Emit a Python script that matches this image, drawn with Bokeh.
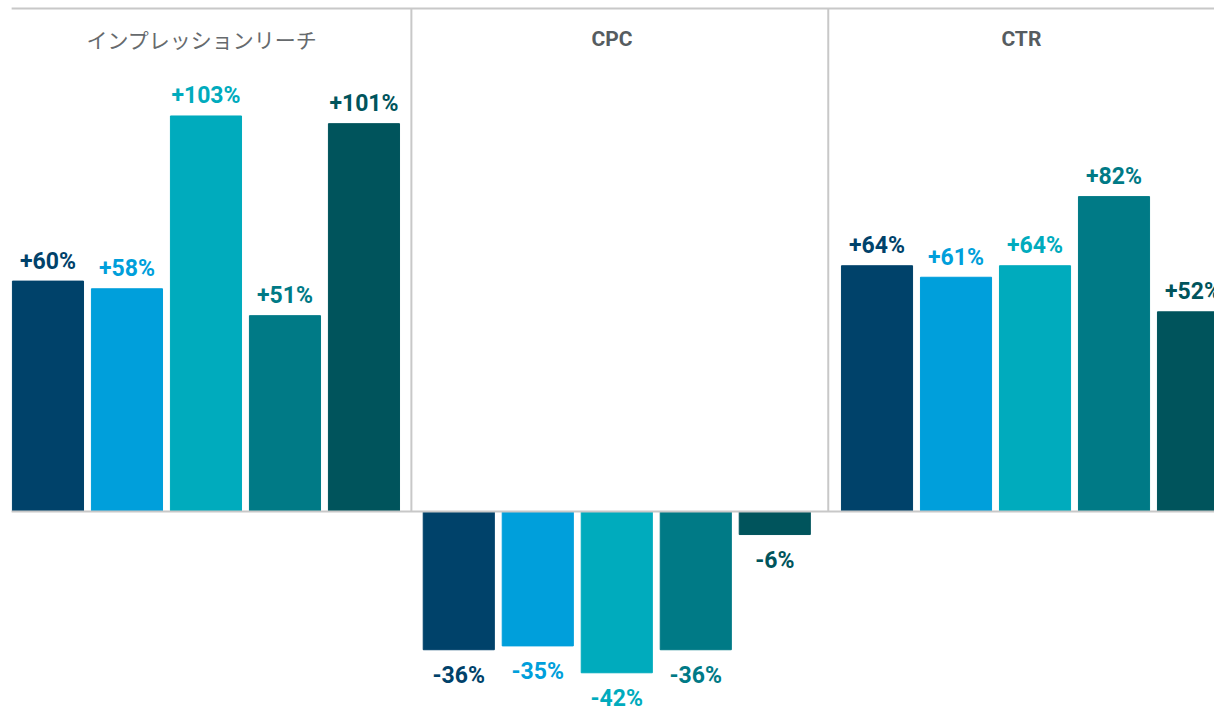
from bokeh.plotting import figure
from bokeh.models import ColumnDataSource, Label
from bokeh.core.properties import value
from bokeh.embed import file_html
from bokeh.resources import INLINE

# ---- data ----
panels = ["インプレッションリーチ", "CPC", "CTR"]
imp_values = [60, 58, 103, 51, 101]
cpc_values = [-36, -35, -42, -36, -6]
ctr_values = [64, 61, 64, 82, 52]
series_colors = ["#00426A", "#009FDB", "#00ABBD", "#007A86", "#00545C"]

all_values = [imp_values, cpc_values, ctr_values]

# ---- layout constants ----
W, H = 1214, 712
ppu_x = 79.0          # px per bar step
ppu_y = 3.84          # px per percent
zero_px = 511         # zero line from frame top
panel_offsets = [0.0, 5.2, 10.494]
first_center = 0.601
bar_w = 0.9

x_end = W / ppu_x
y_end = zero_px / ppu_y
y_start = -(H - zero_px) / ppu_y

xs, tops, cols, labels, offs, bases = [], [], [], [], [], []
for p_, vals in enumerate(all_values):
    for i, v in enumerate(vals):
        xs.append(panel_offsets[p_] + i + first_center)
        tops.append(v)
        cols.append(series_colors[i])
        labels.append(("+" if v > 0 else "") + f"{v}%")
        offs.append(-20 if v > 0 else 12)
        bases.append("alphabetic" if v > 0 else "top")

src = ColumnDataSource(dict(x=xs, top=tops, color=cols, label=labels,
                            off=offs, base=bases))

p = figure(width=W, height=H, x_range=(0, x_end), y_range=(y_start, y_end),
           output_backend="svg", toolbar_location=None,
           x_axis_location=None, y_axis_location=None,
           min_border=0, outline_line_color=None)
p.xgrid.visible = False
p.ygrid.visible = False
p.background_fill_color = "white"

p.vbar(x="x", top="top", bottom=0, width=bar_w, color="color", source=src)

p.text(x="x", y="top", text="label", text_color="color",
       text_font=value("Roboto"), text_font_style="bold",
       text_font_size="23px", text_align="center",
       text_baseline="base", y_offset="off", source=src)

# boundaries between panels
n = len(imp_values)
first_start = [panel_offsets[k] + first_center - bar_w / 2 for k in range(3)]
last_end = [panel_offsets[k] + n - 1 + first_center + bar_w / 2 for k in range(3)]
dividers = [(last_end[k] + first_start[k + 1]) / 2 for k in range(2)]
dividers[1] += 0.03

line_col = "#c8c8c8"
top_y = y_end - 8 / ppu_y
p.segment(x0=dividers, x1=dividers, y0=[0, 0], y1=[top_y, top_y],
          line_color=line_col, line_width=2)
left_x = first_start[0] - 0.01
p.segment(x0=[left_x], x1=[x_end], y0=[0], y1=[0],
          line_color=line_col, line_width=2)
p.segment(x0=[left_x], x1=[x_end], y0=[top_y], y1=[top_y],
          line_color=line_col, line_width=2)

# panel titles
bounds = [0] + dividers + [x_end]
title_y = y_end - 38 / ppu_y
title_shift = [-0.05, -0.1, 0.0]
for k, name in enumerate(panels):
    cx = (bounds[k] + bounds[k + 1]) / 2 + title_shift[k]
    if k == 0:
        lab = Label(x=cx, y=title_y, text=name, text_align="center",
                    text_baseline="middle", text_font="Noto Sans CJK JP",
                    text_font_size="21px", text_color="#666a6d")
    else:
        lab = Label(x=cx, y=title_y, text=name, text_align="center",
                    text_baseline="middle", text_font="Roboto",
                    text_font_style="bold", text_font_size="21px",
                    text_color="#565c60")
    p.add_layout(lab)

open("out.html", "w").write(file_html(p, INLINE))
